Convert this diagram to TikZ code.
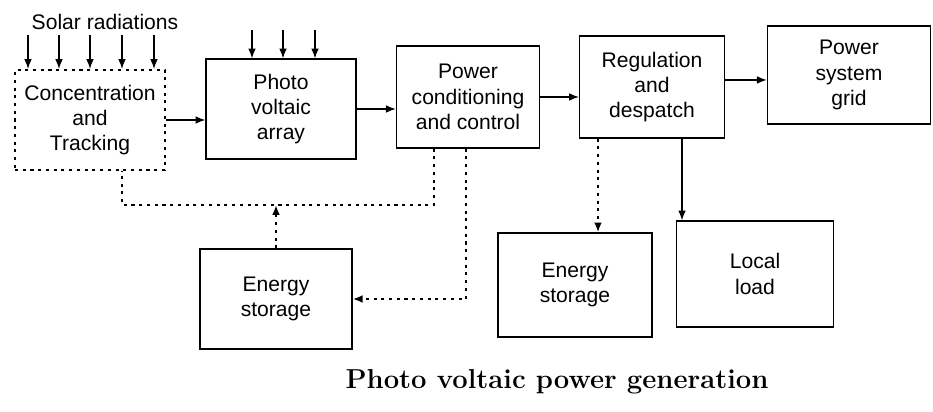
\documentclass[tikz,border=0pt]{standalone}
\usepackage{fontspec}
\setsansfont{Liberation Sans}
\usetikzlibrary{arrows.meta}

\begin{document}
\begin{tikzpicture}[x=0.025cm,y=-0.025cm,>={Latex[length=7pt,width=5.5pt]},
  every node/.style={font=\sffamily\fontsize{15}{18}\selectfont},
  blk/.style={draw,line width=.9pt,align=center,inner sep=2pt},
  dotline/.style={line width=1.5pt,dash pattern=on 2.2pt off 3.3pt},
  flow/.style={->,line width=.9pt}]
\useasboundingbox (0,0) rectangle (933,412);
% top row of blocks
\node (sun) at (105,22) {Solar radiations};
\node[blk,dotline,minimum width=3.75cm,minimum height=2.5cm] (conc) at (90,120) {Concentration\\and\\Tracking};
\node[blk,minimum width=3.75cm,minimum height=2.5cm] (pv) at (281,109) {Photo\\voltaic\\array};
\node[blk,minimum width=3.58cm,minimum height=2.55cm] (pcc) at (468,97) {Power\\conditioning\\and control};
\node[blk,minimum width=3.62cm,minimum height=2.55cm] (reg) at (652,87) {Regulation\\and\\despatch};
\node[blk,minimum width=4.08cm,minimum height=2.45cm] (grid) at (849,75) {Power\\system\\grid};
% bottom row
\node[blk,minimum width=3.8cm,minimum height=2.5cm] (es1) at (276,299) {Energy\\storage};
\node[blk,minimum width=3.85cm,minimum height=2.6cm] (es2) at (575,285) {Energy\\storage};
\node[blk,minimum width=3.92cm,minimum height=2.65cm] (load) at (755,274) {Local\\load};
\node[font=\rmfamily\bfseries\fontsize{19.5}{23}\selectfont] (title) at (557,382) {Photo voltaic power generation};
% radiation
\foreach \x in {28,59,90,122,154} \draw[flow] (\x,0 |- sun.south) -- (\x,0 |- conc.north);
\foreach \x in {252,283,315} \draw[flow] (\x,30) -- (\x,30 |- pv.north);
% main flow
\draw[flow] (conc.east) -- (conc.east -| pv.west);
\draw[flow] (pv.east) -- (pv.east -| pcc.west);
\draw[flow] (pcc.east) -- (pcc.east -| reg.west);
\draw[flow] ([yshift=5pt]reg.east) -- ([yshift=5pt]reg.east -| grid.west);
% storage links
\coordinate (bus) at (es1.north |- 0,205);
\draw[dotline] (434,0 |- pcc.south) |- (bus) -| (122,0 |- conc.south);
\draw[dotline,->] (es1.north) -- (bus);
\draw[dotline,->] (466,0 |- pcc.south) |- (es1.east);
\draw[dotline,->] (598,0 |- reg.south) -- (598,0 |- es2.north);
\draw[flow] (682,0 |- reg.south) -- (682,0 |- load.north);
\end{tikzpicture}
\end{document}
